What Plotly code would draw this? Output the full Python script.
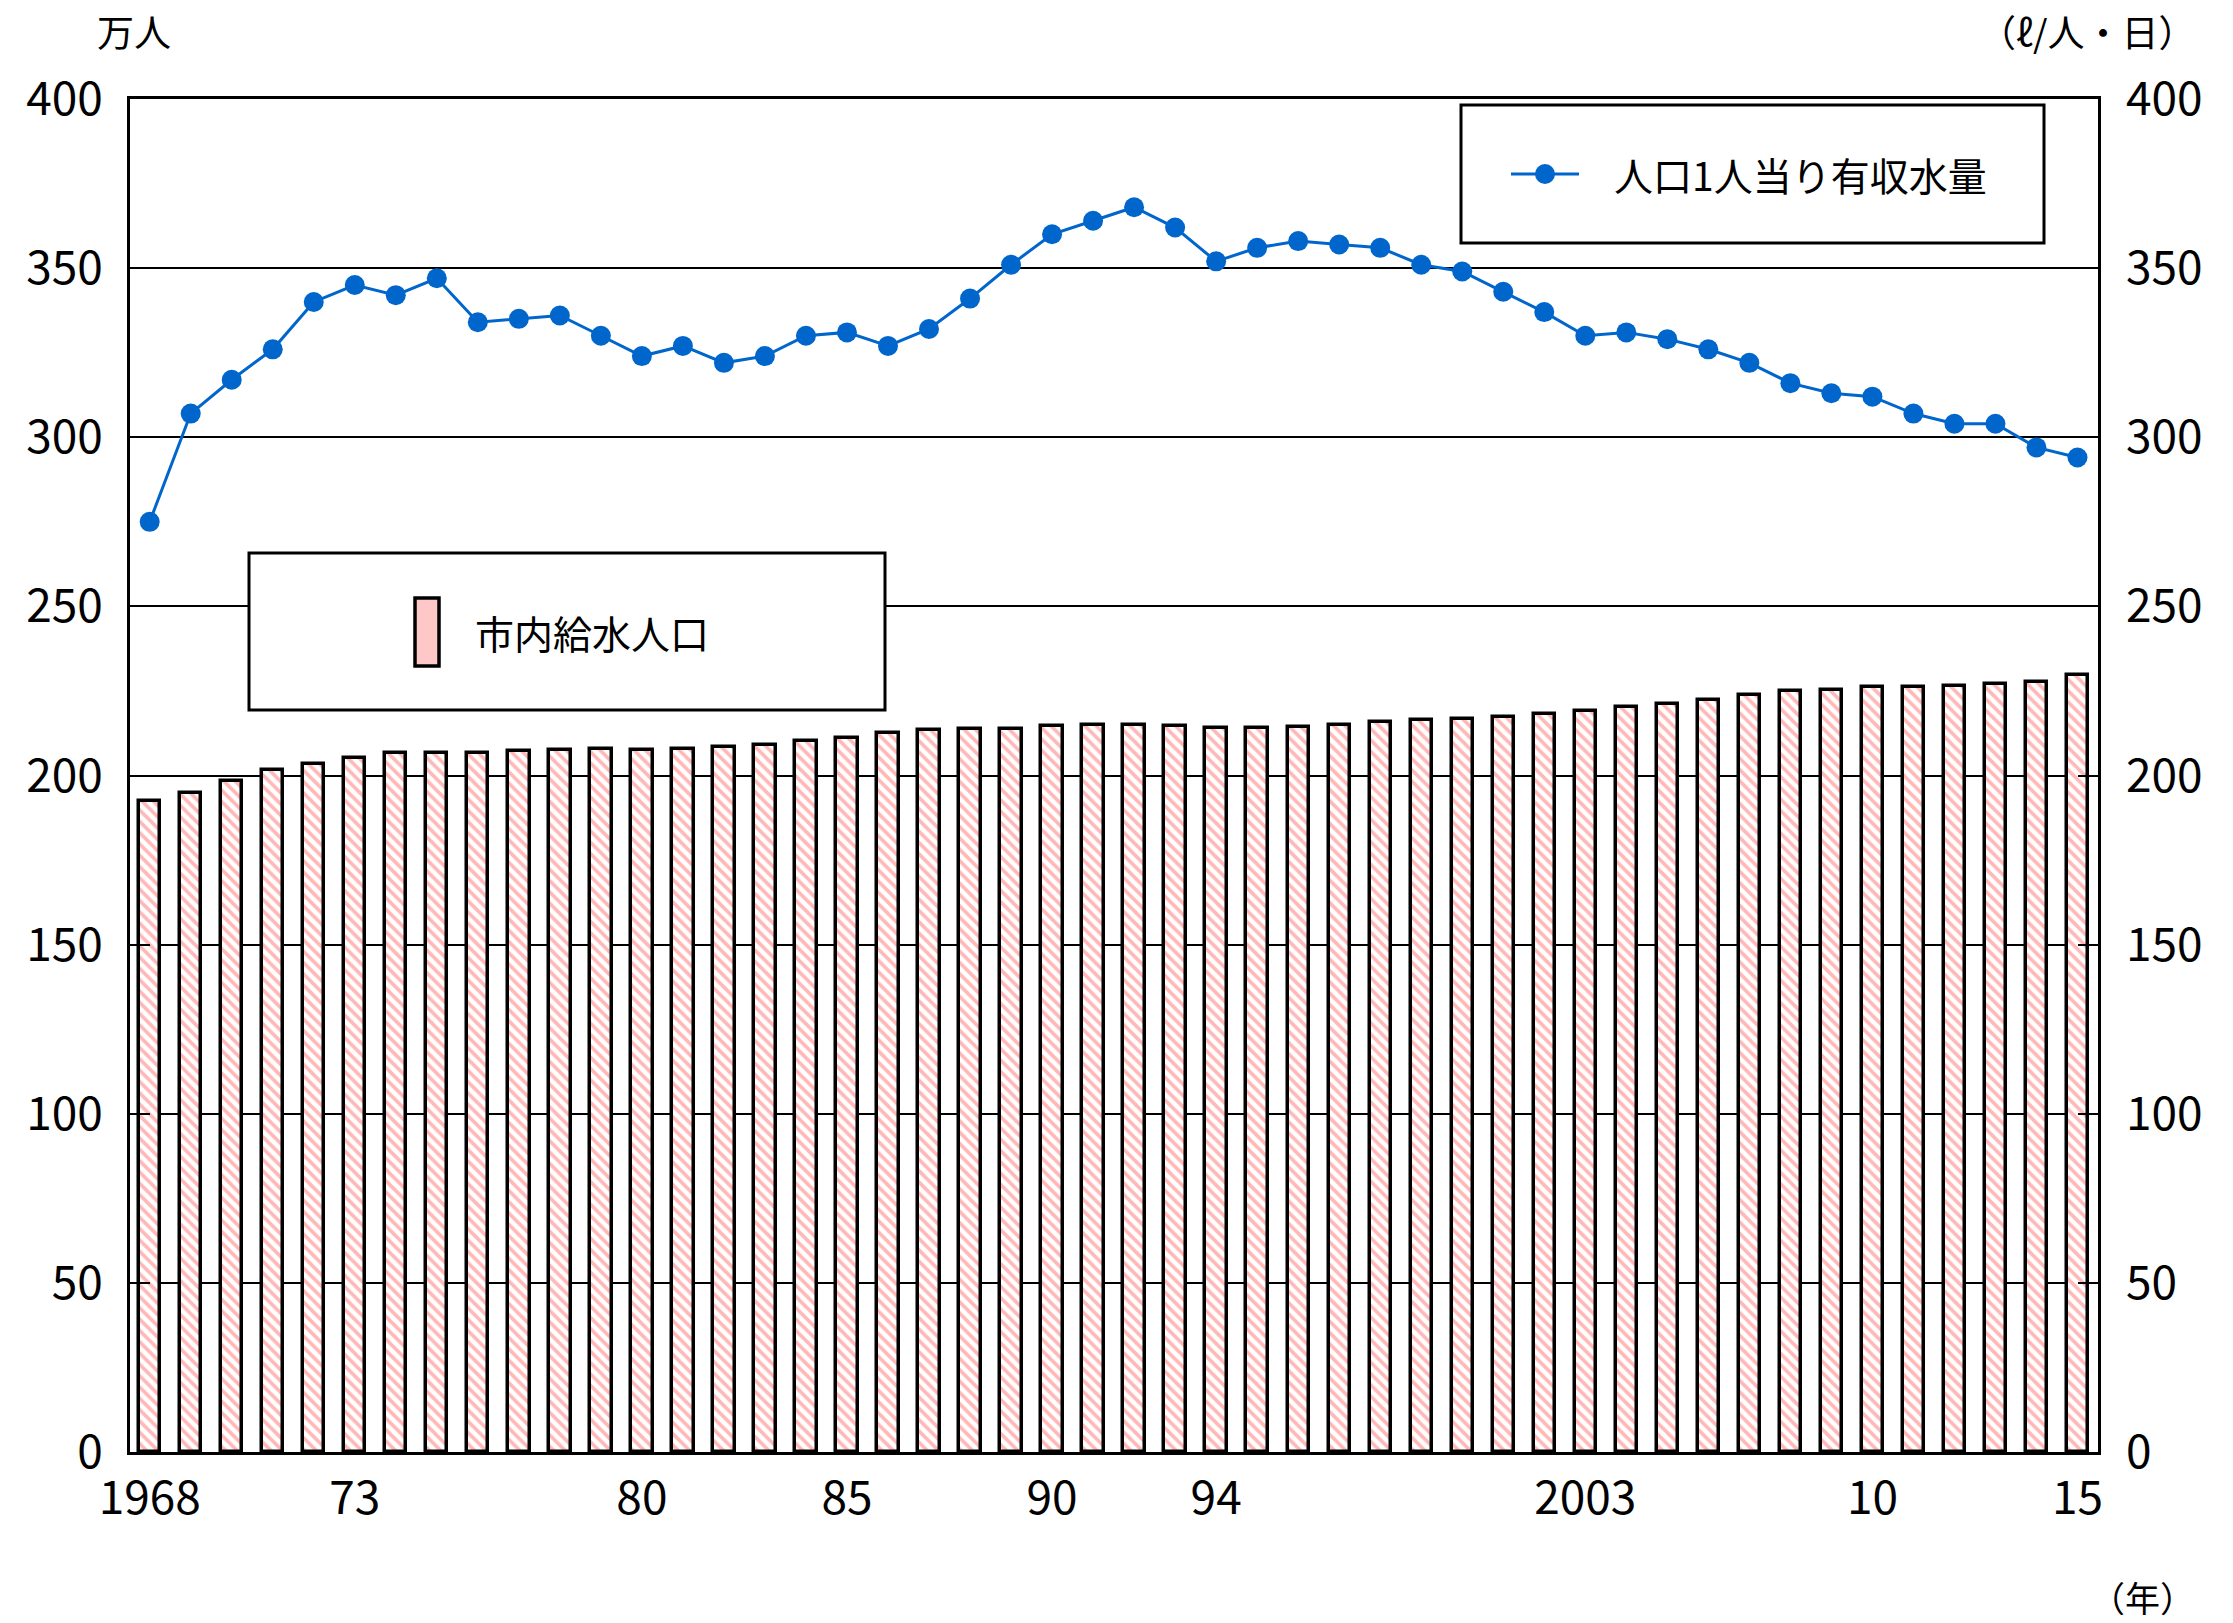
import plotly.graph_objects as go

# 年度
years = list(range(1968, 2016))

# 市内給水人口（万人）
population = [
    192.5, 194.9, 198.4, 201.6, 203.5, 205.3, 206.8, 206.6, 206.8, 207.2,
    207.6, 207.7, 207.5, 207.9, 208.4, 209.1, 210.3, 211.0, 212.6, 213.4,
    213.7, 213.8, 214.6, 215.0, 214.9, 214.6, 214.1, 214.0, 214.4, 214.9,
    215.7, 216.3, 216.6, 217.4, 218.3, 219.2, 220.2, 221.2, 222.4, 223.7,
    224.9, 225.3, 226.1, 226.1, 226.4, 227.0, 227.5, 229.6,
]

# 人口1人当り有収水量（ℓ/人・日）
per_capita = [
    275, 307, 317, 326, 340, 345, 342, 347, 334, 335,
    336, 330, 324, 327, 322, 324, 330, 331, 327, 332,
    341, 351, 360, 364, 368, 362, 352, 356, 358, 357,
    356, 351, 349, 343, 337, 330, 331, 329, 326, 322,
    316, 313, 312, 307, 304, 304, 297, 294,
]

tick_years = [1968, 1973, 1980, 1985, 1990, 1994, 2003, 2010, 2015]
tick_text = ["1968", "73", "80", "85", "90", "94", "2003", "10", "15"]

LINE_NAME = "人口1人当り有収水量"
BAR_NAME = "市内給水人口"

W, H = 2233, 1623
PL, PR, PT, PB = 130, 2098, 99, 1452
FONT = "Noto Sans CJK JP"
BLUE = "#0066CC"


def px(x):
    return (x - PL) / (PR - PL)


def py(y):
    return (PB - y) / (PB - PT)


fig = go.Figure()

fig.add_trace(go.Bar(
    x=years, y=population, name=BAR_NAME, width=0.52,
    marker=dict(
        color="white",
        line=dict(color="black", width=3.5),
        pattern=dict(shape="\\", fgcolor="#FF7070", bgcolor="white",
                     size=8, solidity=0.45),
    ),
    yaxis="y", showlegend=False,
))

fig.add_trace(go.Scatter(
    x=years, y=per_capita, name=LINE_NAME, mode="lines+markers",
    line=dict(color=BLUE, width=3),
    marker=dict(color=BLUE, size=20),
    yaxis="y2", showlegend=False,
))

shapes = [
    # 凡例枠（有収水量）
    dict(type="rect", xref="paper", yref="paper",
         x0=px(1461), x1=px(2044), y0=py(243), y1=py(105),
         line=dict(color="black", width=3), fillcolor="white", layer="above"),
    dict(type="line", xref="paper", yref="paper",
         x0=px(1511), x1=px(1579), y0=py(174), y1=py(174),
         line=dict(color=BLUE, width=3), layer="above"),
    dict(type="circle", xref="paper", yref="paper",
         x0=px(1535), x1=px(1555), y0=py(184), y1=py(164),
         line=dict(color=BLUE, width=0), fillcolor=BLUE, layer="above"),
    # 凡例枠（給水人口）
    dict(type="rect", xref="paper", yref="paper",
         x0=px(249), x1=px(885), y0=py(710), y1=py(553),
         line=dict(color="black", width=3), fillcolor="white", layer="above"),
    dict(type="rect", xref="paper", yref="paper",
         x0=px(415), x1=px(439), y0=py(666), y1=py(598),
         line=dict(color="black", width=3.5), fillcolor="#FFC8C8",
         layer="above"),
]

annotations = [
    dict(text=LINE_NAME, x=px(1612), y=py(174), xref="paper", yref="paper",
         xanchor="left", yanchor="middle", showarrow=False,
         font=dict(family=FONT, size=39, color="black")),
    dict(text=BAR_NAME, x=px(473), y=py(632), xref="paper", yref="paper",
         xanchor="left", yanchor="middle", showarrow=False,
         font=dict(family=FONT, size=39, color="black")),
    dict(text="万人", x=px(134), y=py(31), xref="paper", yref="paper",
         xanchor="center", yanchor="middle", showarrow=False,
         font=dict(family=FONT, size=37, color="black")),
    dict(text="（ℓ/人・日）", x=px(2087), y=py(31), xref="paper", yref="paper",
         xanchor="center", yanchor="middle", showarrow=False,
         font=dict(family=FONT, size=37, color="black")),
    dict(text="（年）", x=px(2142), y=py(1596), xref="paper", yref="paper",
         xanchor="center", yanchor="middle", showarrow=False,
         font=dict(family=FONT, size=35, color="black")),
]

tick_font = dict(family=FONT, size=46, color="black")

fig.update_layout(
    width=W, height=H, autosize=False,
    margin=dict(l=PL, r=W - PR, t=PT, b=H - PB, pad=0),
    paper_bgcolor="white", plot_bgcolor="white",
    bargap=0,
    showlegend=False,
    xaxis=dict(
        range=[1967.52, 2015.5], tickmode="array",
        tickvals=tick_years, ticktext=tick_text, ticks="",
        showgrid=False, zeroline=False,
        showline=True, linecolor="black", linewidth=3, mirror=True,
        tickfont=tick_font, ticklabelstandoff=4,
    ),
    yaxis=dict(
        range=[0, 400], dtick=50, tick0=0,
        showgrid=True, gridcolor="black", gridwidth=2,
        zeroline=False, ticks="inside", ticklen=20, tickwidth=2,
        tickcolor="black",
        showline=True, linecolor="black", linewidth=3, mirror=True,
        tickfont=tick_font, ticklabelstandoff=15,
    ),
    yaxis2=dict(
        range=[0, 400], dtick=50, tick0=0, overlaying="y", side="right",
        showgrid=False, zeroline=False, ticks="inside", ticklen=20,
        tickwidth=2, tickcolor="black", showline=False,
        tickfont=tick_font, ticklabelstandoff=27,
    ),
    shapes=shapes,
    annotations=annotations,
)

fig.write_html("out.html")
